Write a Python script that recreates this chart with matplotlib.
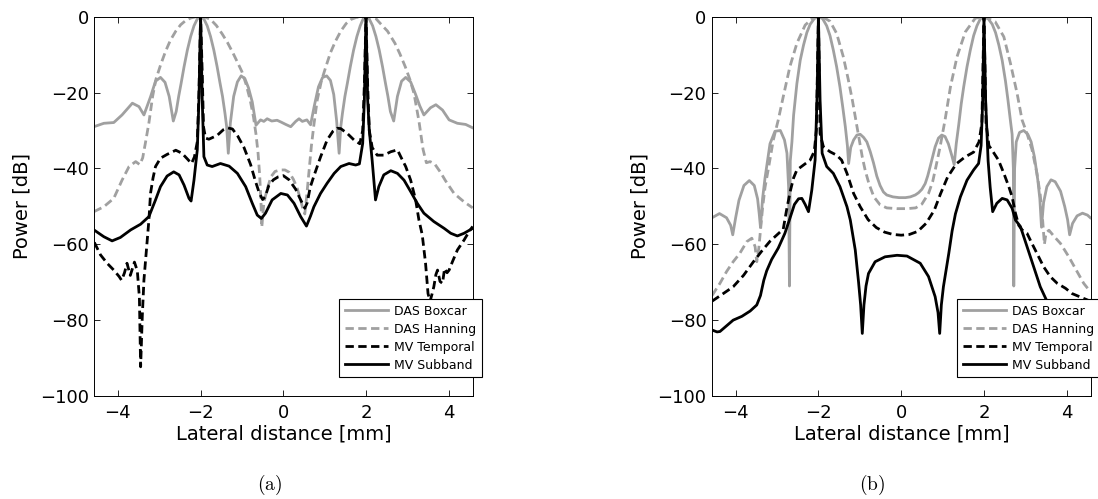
import numpy as np
import matplotlib
matplotlib.use("Agg")
import matplotlib.pyplot as plt

# ---------------- dados ----------------
# (a) DAS Boxcar
a_boxcar_x = [-4.58, -4.34, -4.10, -3.90, -3.65, -3.49, -3.37, -3.21, -3.09, -2.97, -2.86, -2.76, -2.66, -2.59, -2.53,
              -2.47, -2.40, -2.32, -2.24, -2.16, -2.08, -2.00, -1.92, -1.84, -1.76, -1.68, -1.60, -1.53, -1.47, -1.41,
              -1.37, -1.33, -1.28, -1.20, -1.11, -1.02, -0.93, -0.84, -0.75, -0.66, -0.55, -0.47, -0.39, -0.28, -0.15,
              -0.05, 0.06, 0.18, 0.30, 0.38, 0.46, 0.57, 0.66, 0.75, 0.85, 0.95, 1.05, 1.14, 1.22, 1.29, 1.35, 1.39,
              1.43, 1.49, 1.55, 1.62, 1.70, 1.78, 1.86, 1.93, 2.00, 2.08, 2.16, 2.24, 2.32, 2.40, 2.47, 2.53, 2.59,
              2.67, 2.76, 2.86, 2.96, 3.08, 3.20, 3.30, 3.40, 3.56, 3.69, 3.85, 4.01, 4.21, 4.41, 4.60]
a_boxcar_y = [-29.0, -28.1, -27.9, -25.9, -22.8, -23.7, -25.9, -21.1, -17.0, -16.0, -17.3, -21.0, -27.5, -25.0, -21.0,
              -17.5, -13.2, -8.8, -5.2, -2.4, -0.6, 0.0, -0.6, -2.4, -5.2, -8.8, -13.2, -17.5, -21.0, -25.5,
              -29.0, -36.0, -28.0, -21.0, -17.2, -15.6, -16.3, -18.8, -22.5, -28.6, -27.2, -27.6, -26.9, -27.5, -27.3,
              -27.8, -28.4, -29.0, -27.6, -26.9, -27.6, -27.2, -28.5, -23.5, -18.5, -16.0, -15.6, -16.8, -20.5, -27.5,
              -36.0, -29.0, -25.5, -21.0, -17.5, -13.2, -8.8, -5.2, -2.4, -0.6, 0.0, -0.6, -2.4, -5.2, -8.8, -13.2,
              -17.5, -21.0, -25.0, -27.5, -21.0, -17.0, -16.0, -17.2, -20.5, -23.5, -25.9, -24.0, -23.2, -24.6, -27.2,
              -28.1, -28.4, -29.4]

# (a) DAS Hanning
a_hann_x = [-4.58, -4.34, -4.10, -3.90, -3.73, -3.57, -3.47, -3.40, -3.33, -3.25, -3.16, -3.08, -2.97, -2.85, -2.73,
            -2.60, -2.48, -2.36, -2.24, -2.12, -2.00, -1.88, -1.76, -1.62, -1.48, -1.35, -1.22, -1.10, -1.00, -0.90,
            -0.80, -0.72, -0.66, -0.61, -0.57, -0.54, -0.52, -0.47, -0.39, -0.30, -0.20, -0.08, 0.04, 0.14, 0.24,
            0.33, 0.42, 0.48, 0.52, 0.56, 0.62, 0.68, 0.74, 0.82, 0.92, 1.02, 1.14, 1.26, 1.39, 1.52, 1.64, 1.76,
            1.88, 2.00, 2.12, 2.24, 2.39, 2.52, 2.70, 2.82, 2.95, 3.06, 3.16, 3.28, 3.38, 3.46, 3.55, 3.66, 3.80,
            3.92, 4.13, 4.37, 4.58]
a_hann_y = [-51.4, -50.1, -47.9, -43.1, -39.5, -38.2, -39.0, -37.2, -33.0, -28.0, -21.0, -16.5, -12.8, -9.2, -6.2,
            -3.8, -2.1, -1.0, -0.35, -0.05, 0.0, -0.15, -0.7, -2.3, -4.5, -6.8, -9.5, -12.2, -14.5, -17.8,
            -22.0, -26.5, -31.0, -36.0, -42.0, -49.0, -55.5, -49.0, -45.5, -42.2, -40.8, -40.4, -40.4, -41.0, -42.8,
            -45.0, -48.3, -51.0, -52.0, -48.0, -41.0, -34.0, -28.5, -22.0, -17.0, -13.5, -9.5, -6.5, -3.8, -1.8,
            -0.7, -0.2, -0.05, 0.0, -0.05, -0.5, -2.3, -3.8, -7.0, -9.8, -13.2, -16.5, -20.2, -27.5, -35.0, -38.5,
            -38.2, -38.8, -41.0, -43.2, -46.6, -48.8, -50.4]

# (a) MV Temporal
a_temp_x = [-4.57, -4.42, -4.26, -4.10, -3.97, -3.91, -3.84, -3.78, -3.70, -3.60, -3.53, -3.48, -3.45, -3.41, -3.37,
            -3.31, -3.25, -3.21, -3.15, -3.09, -2.97, -2.81, -2.60, -2.45, -2.32, -2.22, -2.15, -2.08, -2.04, -2.00,
            -1.96, -1.93, -1.88, -1.80, -1.60, -1.45, -1.35, -1.23, -1.10, -0.95, -0.79, -0.67, -0.58, -0.50, -0.44,
            -0.35, -0.24, -0.12, 0.00, 0.14, 0.30, 0.42, 0.52, 0.58, 0.65, 0.74, 0.90, 1.06, 1.20, 1.30, 1.39, 1.55,
            1.71, 1.85, 1.92, 1.96, 2.00, 2.04, 2.08, 2.15, 2.27, 2.43, 2.60, 2.76, 2.84, 2.96, 3.08, 3.20, 3.28,
            3.36, 3.44, 3.50, 3.55, 3.60, 3.64, 3.69, 3.73, 3.79, 3.85, 3.90, 3.96, 4.01, 4.09, 4.21, 4.37, 4.49,
            4.58]
a_temp_y = [-59.5, -62.8, -65.0, -66.8, -68.5, -69.5, -67.5, -65.0, -68.2, -64.7, -67.0, -74.0, -92.3, -79.0, -69.4,
            -61.5, -53.6, -46.5, -42.5, -39.5, -37.3, -36.3, -35.2, -36.0, -37.5, -38.7, -37.0, -33.0, -20.0, 0.0,
            -15.0, -29.0, -32.0, -32.3, -31.3, -29.8, -29.3, -29.6, -31.5, -34.5, -39.0, -43.5, -46.5, -48.2, -47.5,
            -44.5, -43.0, -42.2, -41.9, -43.0, -45.5, -48.3, -50.5, -49.0, -45.0, -42.0, -37.0, -32.5, -30.2, -29.4,
            -29.5, -30.8, -32.5, -33.5, -30.0, -18.0, 0.0, -18.0, -30.0, -34.5, -36.5, -36.5, -35.6, -35.1, -36.9,
            -39.5, -43.1, -48.3, -53.6, -57.5, -65.0, -73.0, -75.0, -73.0, -71.2, -68.0, -66.8, -69.8, -70.3, -66.4,
            -67.5, -66.8, -64.6, -61.5, -58.9, -56.7, -55.3]

# (a) MV Subband
a_sub_x = [-4.58, -4.34, -4.14, -3.94, -3.69, -3.45, -3.25, -3.09, -2.97, -2.81, -2.65, -2.52, -2.40, -2.28, -2.23,
           -2.16, -2.08, -2.04, -2.00, -1.96, -1.92, -1.84, -1.72, -1.52, -1.31, -1.11, -0.91, -0.75, -0.63, -0.53,
           -0.43, -0.27, -0.06, 0.10, 0.26, 0.42, 0.56, 0.66, 0.74, 0.90, 1.06, 1.23, 1.39, 1.59, 1.75, 1.84, 1.92,
           1.96, 2.00, 2.04, 2.08, 2.15, 2.23, 2.31, 2.43, 2.60, 2.76, 2.92, 3.08, 3.24, 3.40, 3.64, 3.89, 4.05,
           4.21, 4.37, 4.58]
a_sub_y = [-56.2, -58.0, -59.1, -58.2, -56.2, -54.7, -52.7, -48.3, -44.8, -42.0, -40.9, -41.7, -44.4, -47.9, -48.6,
           -43.1, -35.1, -22.0, 0.0, -22.0, -36.9, -39.1, -39.5, -38.7, -39.4, -41.3, -44.8, -49.2, -52.3, -53.2,
           -51.8, -48.3, -46.6, -47.0, -49.2, -52.7, -55.2, -52.5, -50.1, -46.6, -43.9, -41.3, -39.5, -38.7, -39.1,
           -38.8, -33.4, -22.0, 0.0, -22.0, -30.0, -38.0, -48.3, -44.8, -41.7, -40.6, -41.3, -43.1, -46.1, -49.2,
           -51.8, -54.0, -55.8, -57.1, -57.8, -57.1, -55.8]

# (b) DAS Boxcar
b_boxcar_x = [-4.57, -4.39, -4.22, -4.12, -4.07, -4.00, -3.92, -3.80, -3.67, -3.55, -3.47, -3.43, -3.40, -3.35, -3.29,
              -3.17, -3.05, -2.92, -2.82, -2.76, -2.72, -2.70, -2.68, -2.64, -2.60, -2.52, -2.44, -2.36, -2.28, -2.20,
              -2.10, -2.00, -1.90, -1.80, -1.72, -1.64, -1.56, -1.48, -1.41, -1.35, -1.30, -1.27, -1.22, -1.15, -1.07,
              -0.99, -0.91, -0.83, -0.75, -0.67, -0.59, -0.51, -0.43, -0.35, -0.20, -0.05, 0.10, 0.22, 0.34, 0.42,
              0.50, 0.58, 0.64, 0.70, 0.82, 0.90, 0.98, 1.06, 1.14, 1.22, 1.28, 1.33, 1.39, 1.45, 1.51, 1.59, 1.67,
              1.75, 1.83, 1.91, 2.00, 2.10, 2.20, 2.28, 2.36, 2.44, 2.52, 2.58, 2.64, 2.68, 2.71, 2.72, 2.74, 2.78,
              2.86, 2.96, 3.06, 3.14, 3.22, 3.30, 3.35, 3.39, 3.44, 3.52, 3.62, 3.72, 3.85, 3.95, 4.02, 4.07, 4.14,
              4.25, 4.38, 4.50, 4.57]
b_boxcar_y = [-53.0, -51.9, -53.0, -55.0, -57.5, -53.0, -48.4, -44.5, -43.2, -44.5, -48.0, -52.0, -55.5, -48.0, -42.5,
              -33.5, -30.2, -30.0, -32.5, -36.0, -45.0, -71.0, -38.0, -33.0, -26.0, -17.6, -11.5, -7.5, -4.2, -2.0,
              -0.5, 0.0, -0.5, -2.4, -5.0, -8.8, -13.2, -18.5, -24.0, -29.0, -34.0, -38.7, -34.5, -32.5, -31.2,
              -31.0, -31.8, -33.0, -35.5, -38.5, -42.0, -44.5, -46.2, -47.0, -47.5, -47.7, -47.7, -47.5, -47.0, -46.4,
              -45.5, -44.0, -42.0, -39.5, -34.3, -32.0, -31.2, -31.6, -33.5, -36.5, -39.0, -33.5, -28.5, -23.0, -18.5,
              -13.2, -8.8, -5.0, -2.4, -0.6, 0.0, -0.5, -2.0, -4.2, -7.5, -11.5, -17.0, -22.0, -27.5, -31.0, -40.0,
              -71.0, -40.0, -33.0, -30.5, -30.0, -31.0, -33.0, -37.0, -43.0, -48.0, -55.5, -49.0, -44.8, -43.0, -43.5,
              -46.0, -50.0, -53.5, -57.5, -54.5, -52.5, -51.8, -52.3, -53.0]

# (b) DAS Hanning
b_hann_x = [-4.57, -4.38, -4.22, -4.06, -3.90, -3.73, -3.61, -3.53, -3.49, -3.44, -3.41, -3.35, -3.29, -3.20, -3.09,
            -2.97, -2.85, -2.69, -2.52, -2.32, -2.12, -2.00, -1.86, -1.72, -1.56, -1.40, -1.28, -1.18, -1.10, -1.02,
            -0.94, -0.87, -0.78, -0.66, -0.51, -0.35, -0.10, 0.15, 0.35, 0.50, 0.66, 0.76, 0.84, 0.94, 1.06, 1.19,
            1.35, 1.55, 1.79, 2.00, 2.27, 2.48, 2.64, 2.80, 2.92, 3.04, 3.16, 3.28, 3.36, 3.42, 3.46, 3.50, 3.57,
            3.70, 3.85, 4.05, 4.25, 4.41, 4.57]
b_hann_y = [-73.5, -70.3, -67.2, -64.6, -62.4, -59.3, -58.4, -60.6, -64.6, -61.0, -57.5, -50.5, -45.0, -39.5, -32.5,
            -27.2, -21.1, -13.2, -7.0, -2.2, -0.2, 0.0, -0.3, -1.2, -4.4, -10.5, -16.5, -22.0, -27.0, -32.0,
            -37.0, -40.5, -44.0, -47.5, -49.6, -50.4, -50.6, -50.6, -50.4, -49.4, -46.6, -43.5, -39.5, -34.3, -27.2,
            -18.5, -10.5, -4.0, -0.4, 0.0, -1.3, -5.3, -12.3, -20.2, -27.2, -30.8, -35.0, -41.3, -47.0, -54.0,
            -60.0, -57.0, -56.3, -58.0, -59.8, -63.3, -67.2, -70.3, -72.5]

# (b) MV Temporal
b_temp_x = [-4.57, -4.30, -4.06, -3.81, -3.57, -3.37, -3.17, -2.97, -2.85, -2.77, -2.68, -2.60, -2.52, -2.36, -2.20,
            -2.10, -2.05, -2.00, -1.96, -1.88, -1.72, -1.56, -1.44, -1.31, -1.15, -0.99, -0.80, -0.60, -0.40, -0.20,
            0.00, 0.20, 0.40, 0.60, 0.80, 0.95, 1.12, 1.33, 1.54, 1.75, 1.88, 1.95, 2.00, 2.05, 2.12, 2.19, 2.35,
            2.48, 2.60, 2.68, 2.76, 2.84, 2.92, 3.04, 3.16, 3.28, 3.44, 3.60, 3.77, 3.97, 4.13, 4.35, 4.57]
b_temp_y = [-75.0, -73.0, -71.2, -68.2, -64.6, -61.8, -59.2, -57.2, -56.0, -51.0, -46.0, -42.5, -40.4, -39.1, -37.8,
            -35.5, -30.0, 0.0, -30.8, -34.3, -35.6, -36.5, -37.8, -41.3, -46.6, -50.1, -53.5, -55.6, -56.8, -57.4,
            -57.6, -57.4, -56.6, -54.5, -51.0, -46.7, -42.3, -38.8, -37.0, -35.7, -33.0, -28.0, 0.0, -28.0, -34.0,
            -35.1, -37.8, -41.3, -44.8, -47.5, -51.8, -55.0, -56.2, -57.1, -59.8, -62.4, -65.9, -68.5, -70.3, -71.6,
            -73.0, -74.0, -75.0]

# (b) MV Subband
b_sub_x = [-4.57, -4.45, -4.38, -4.22, -4.06, -3.85, -3.65, -3.49, -3.40, -3.32, -3.25, -3.13, -2.97, -2.81, -2.69,
           -2.58, -2.48, -2.40, -2.32, -2.24, -2.16, -2.08, -2.03, -2.00, -1.96, -1.91, -1.80, -1.64, -1.48, -1.31,
           -1.23, -1.11, -1.03, -0.98, -0.94, -0.90, -0.85, -0.79, -0.63, -0.39, -0.10, 0.14, 0.46, 0.66, 0.82, 0.89,
           0.93, 0.97, 1.02, 1.15, 1.23, 1.31, 1.43, 1.59, 1.75, 1.87, 1.93, 1.97, 2.00, 2.04, 2.10, 2.15, 2.21,
           2.31, 2.44, 2.56, 2.68, 2.76, 2.88, 3.04, 3.20, 3.36, 3.50, 3.70, 3.90, 4.06, 4.22, 4.40, 4.57]
b_sub_y = [-82.6, -83.1, -83.0, -81.5, -80.0, -79.0, -77.6, -76.0, -73.5, -69.5, -67.0, -64.0, -61.0, -57.1, -53.2,
           -49.5, -48.0, -47.9, -49.5, -51.4, -45.7, -37.8, -20.0, 0.0, -22.0, -36.0, -39.5, -41.3, -44.8, -50.1,
           -53.6, -61.5, -70.0, -76.0, -83.5, -76.0, -71.0, -67.7, -64.6, -63.3, -62.9, -63.1, -65.0, -68.5, -73.8,
           -78.0, -83.5, -76.0, -71.2, -62.4, -56.5, -52.0, -47.5, -43.1, -40.4, -38.7, -34.0, -22.0, 0.0, -22.0,
           -38.0, -45.0, -51.4, -49.2, -47.9, -48.3, -50.5, -53.6, -55.3, -60.6, -65.9, -71.2, -74.5, -77.5, -79.0,
           -80.0, -81.5, -83.0, -82.6]

labels = ["DAS Boxcar", "DAS Hanning", "MV Temporal", "MV Subband"]
captions = ["(a)", "(b)"]

# ---------------- estilo ----------------
plt.rcParams["font.family"] = "DejaVu Sans"
gray = "#a0a0a0"
dash = (3.0, 1.6)
lw = 2.0

fig = plt.figure(figsize=(10.98, 4.99), dpi=100)
ax_a = fig.add_axes([0.0859, 0.2064, 0.3446, 0.7601])
ax_b = fig.add_axes([0.6485, 0.2064, 0.3449, 0.7601])

paineis = [
    (ax_a, [(a_boxcar_x, a_boxcar_y), (a_hann_x, a_hann_y), (a_temp_x, a_temp_y), (a_sub_x, a_sub_y)]),
    (ax_b, [(b_boxcar_x, b_boxcar_y), (b_hann_x, b_hann_y), (b_temp_x, b_temp_y), (b_sub_x, b_sub_y)]),
]
estilos = [
    dict(color=gray, ls="-"),
    dict(color=gray, ls=(0, dash)),
    dict(color="black", ls=(0, dash)),
    dict(color="black", ls="-"),
]

for ax, curvas in paineis:
    for (x, y), est, lab in zip(curvas, estilos, labels):
        ax.plot(x, y, lw=lw, label=lab, **est)
    ax.set_xlim(-4.57, 4.58)
    ax.set_ylim(-100, 0)
    ax.set_xticks(np.arange(-4, 5, 2))
    ax.set_yticks(np.arange(-100, 1, 20))
    ax.tick_params(direction="in", top=True, right=True, length=4, width=0.6, labelsize=13)
    ax.tick_params(axis="x", pad=6)
    ax.tick_params(axis="y", pad=4)
    for s in ax.spines.values():
        s.set_linewidth(0.7)
    ax.set_xlabel("Lateral distance [mm]", fontsize=14)
    ax.set_ylabel("Power [dB]", fontsize=14)
    ax.xaxis.set_label_coords(0.5, -0.075)
    ax.yaxis.set_label_coords(-0.165, 0.5)
    leg = ax.legend(loc="lower right", bbox_to_anchor=(1.024, 0.049), fontsize=9, fancybox=False,
                    edgecolor="black", framealpha=1, handlelength=3.5, handletextpad=0.45,
                    borderpad=0.45, labelspacing=0.4, borderaxespad=0)
    leg.get_frame().set_linewidth(0.8)

# legendas (a) e (b)
fig.text(270 / 1098, 1 - 485 / 499, r"$\mathrm{(a)}$", ha="center", va="center", fontsize=14, math_fontfamily="cm")
fig.text(872 / 1098, 1 - 485 / 499, r"$\mathrm{(b)}$", ha="center", va="center", fontsize=14, math_fontfamily="cm")

fig.savefig("out.png", dpi=100)
